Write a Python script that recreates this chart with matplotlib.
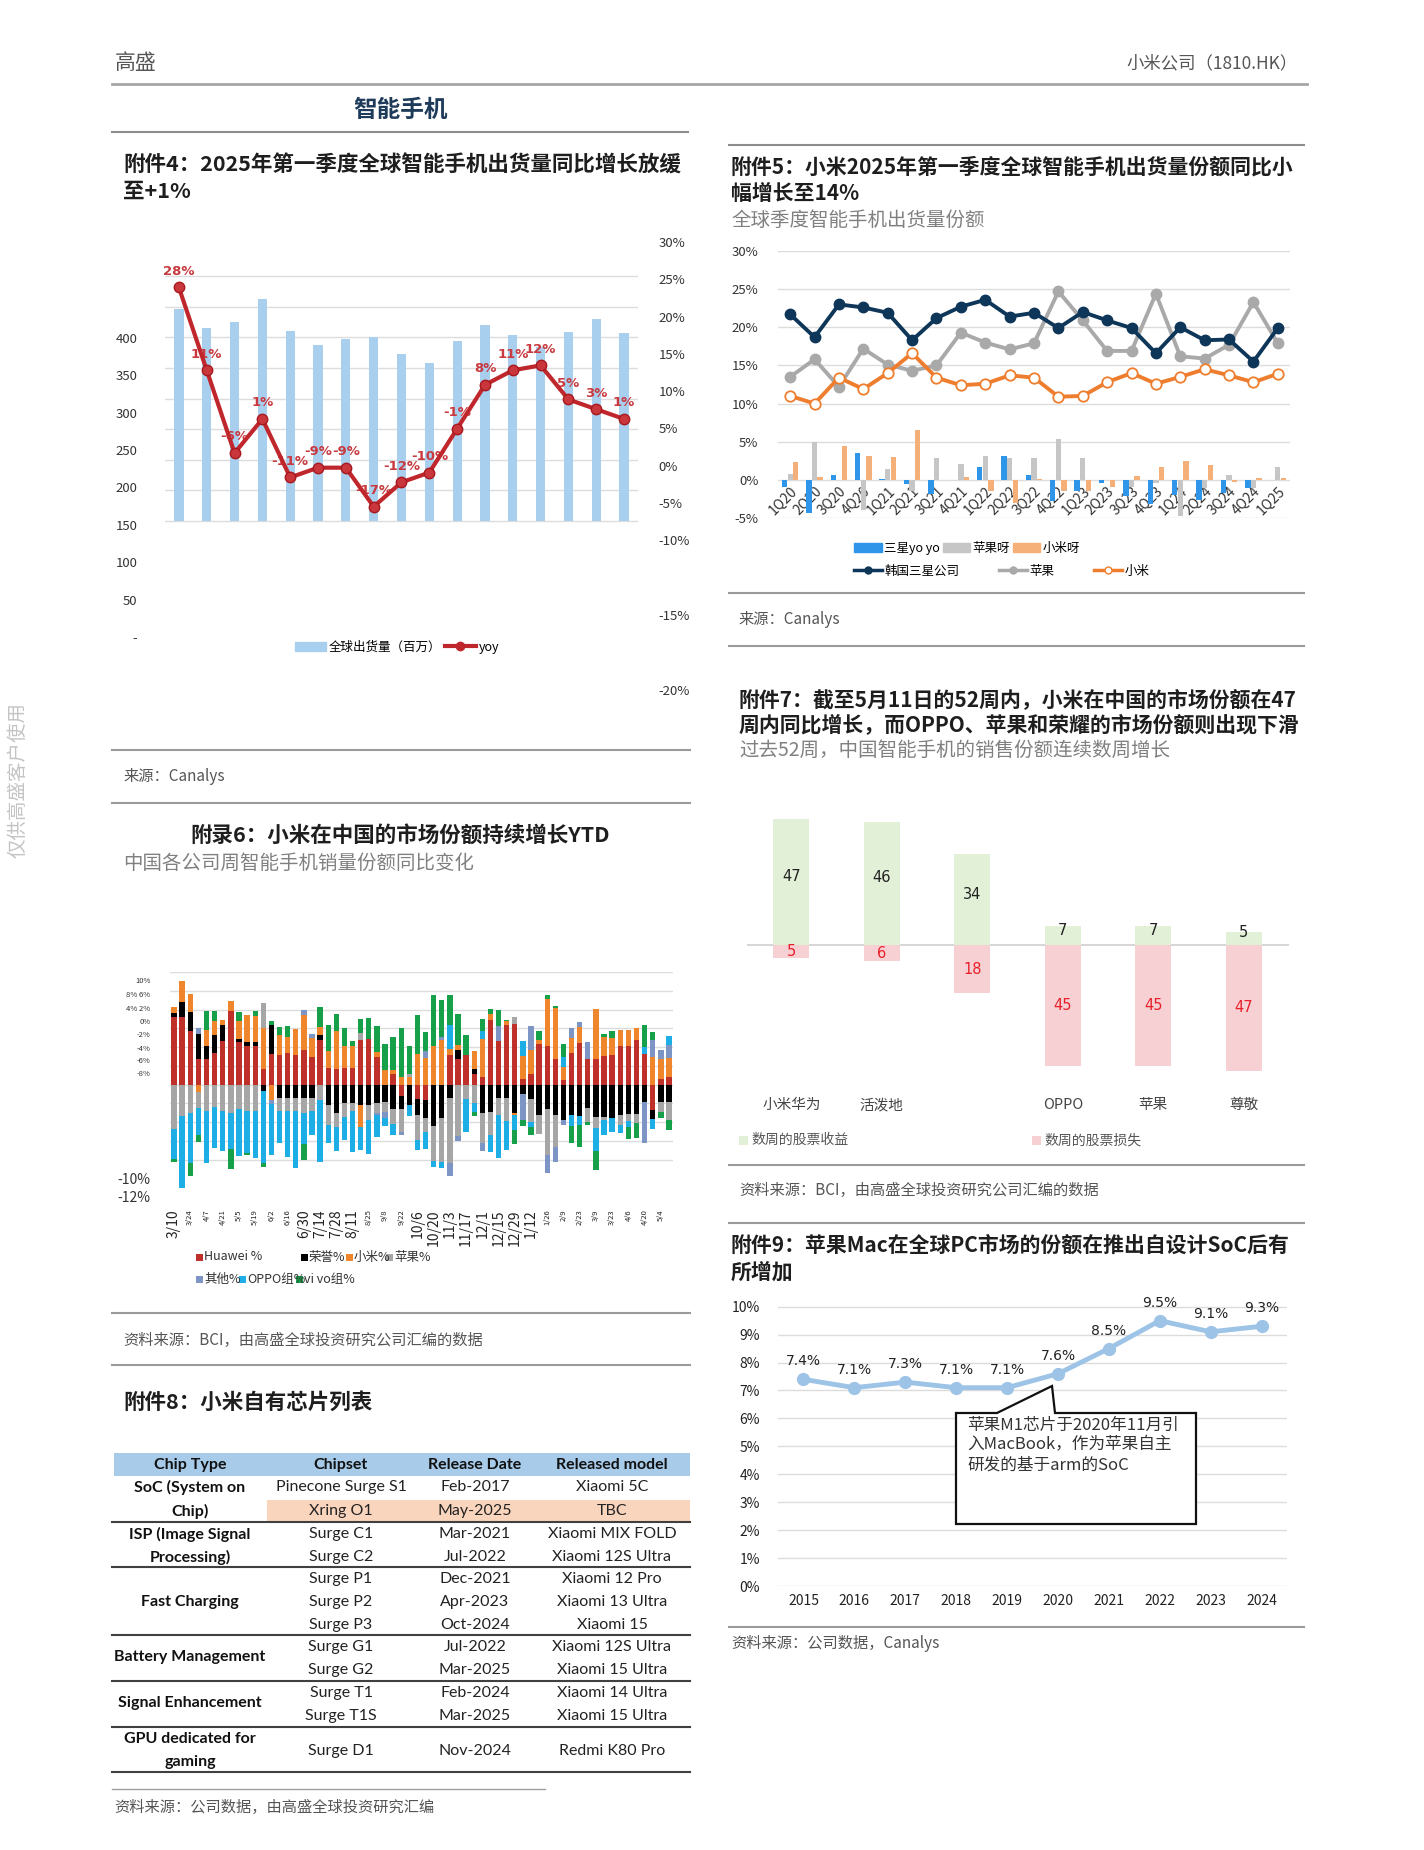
import matplotlib
matplotlib.use('Agg')
import matplotlib.pyplot as plt
import numpy as np
from matplotlib.lines import Line2D
from matplotlib.patches import Rectangle, Polygon, Patch
from matplotlib.ticker import FixedLocator, FixedFormatter

plt.rcParams['font.family'] = ['Noto Sans CJK SC', 'DejaVu Sans']
plt.rcParams['axes.unicode_minus'] = False

# ---------------- data ----------------
# 附件4
quarters4 = ['1Q21', '2Q21', '3Q21', '4Q21', '1Q22', '2Q22', '3Q22', '4Q22', '1Q23',
             '2Q23', '3Q23', '4Q23', '1Q24', '2Q24', '3Q24', '4Q24', '1Q25']
shipments = [346, 315, 325, 363, 310, 288, 297, 301, 273, 258, 294, 320, 304, 285, 309, 330, 307]
yoy = [28, 11, -6, 1, -11, -9, -9, -17, -12, -10, -1, 8, 11, 12, 5, 3, 1]
left_ticks4 = [0, 50, 100, 150, 200, 250, 300, 350, 400]
left_labels4 = ['-', '50', '100', '150', '200', '250', '300', '350', '400']
right_ticks4 = [30, 25, 20, 15, 10, 5, 0, -5, -10, -20, -30]
right_labels4 = ['30%', '25%', '20%', '15%', '10%', '5%', '0%', '-5%', '-10%', '-15%', '-20%']

# 附件5
quarters5 = ['1Q20', '2Q20', '3Q20', '4Q20', '1Q21', '2Q21', '3Q21', '4Q21', '1Q22', '2Q22', '3Q22',
             '4Q22', '1Q23', '2Q23', '3Q23', '4Q23', '1Q24', '2Q24', '3Q24', '4Q24', '1Q25']
samsung_share = [21.7, 18.7, 23.0, 22.6, 21.9, 18.3, 21.2, 22.7, 23.6, 21.4, 21.9,
                 19.9, 22.0, 20.9, 19.9, 16.6, 20.0, 18.3, 18.4, 15.5, 19.9]
apple_share = [13.5, 15.8, 12.2, 17.2, 15.1, 14.3, 15.0, 19.3, 18.0, 17.1, 17.9,
               24.7, 20.9, 16.9, 16.9, 24.4, 16.2, 15.9, 17.7, 23.3, 17.9]
xiaomi_share = [11.0, 10.0, 13.4, 11.9, 14.0, 16.6, 13.4, 12.4, 12.6, 13.7, 13.4,
                10.9, 11.0, 12.8, 14.0, 12.6, 13.5, 14.5, 13.7, 12.8, 13.9]
samsung_yoy = [-0.9, -4.3, 0.7, 3.5, 0.1, -0.5, -1.8, 0.0, 1.7, 3.1, 0.7,
               -2.8, -1.5, -0.4, -2.1, -3.1, -2.0, -2.6, -1.7, -1.1, 0.0]
apple_yoy = [0.8, 5.0, 0.0, -4.0, 1.4, -1.4, 2.8, 2.1, 3.1, 2.8, 2.8,
             5.4, 2.9, 0.0, -0.9, -0.4, -4.8, -1.1, 0.7, -1.1, 1.7]
xiaomi_yoy = [2.3, 0.4, 4.4, 3.1, 3.0, 6.6, 0.0, 0.4, -1.4, -3.0, 0.1,
              -1.5, -1.5, -1.0, 0.5, 1.7, 2.5, 1.9, -0.3, 0.3, 0.3]

# 附录6 (weekly yoy share change, %)
week_labels6 = ['3/10', '3/24', '4/7', '4/21', '5/5', '5/19', '6/2', '6/16', '6/30', '7/14', '7/28',
                '8/11', '8/25', '9/8', '9/22', '10/6', '10/20', '11/3', '11/17', '12/1', '12/15',
                '12/29', '1/12', '1/26', '2/9', '2/23', '3/9', '3/23', '4/6', '4/20', '5/4']
big_labels6 = ['3/10', '6/30', '7/14', '7/28', '8/11', '10/6', '10/20', '11/3', '11/17',
               '12/1', '12/15', '12/29', '1/12']
series6 = ['Huawei %', '荣誉%', '小米%', '苹果%', '其他%', 'OPPO组%', 'vi vo组%']
huawei6 = [7.2, 7.2, 5.7, 2.7, 2.7, 3.4, 4.6, 7.8, 4.5, 4.1, 4.1, 1.7, 3.3, 3.2, 3.4, 3.1, 3.7, 2.9,
           4.7, 1.8, 1.7, 1.8, 1.8, 4.7, 4.9, 2.9, 0.0, 1.1, -1.2, 0.0, -1.5, -1.7, 0.0, 0.0, 3.2,
           2.7, 3.1, 1.1, 0.8, 6.9, 4.6, 6.3, 6.5, 0.6, 1.1, 4.3, 4.1, 2.7, 0.5, 3.4, 4.4, 2.7,
           2.7, 3.0, 3.2, 4.1, 4.1, 4.7, 3.3, -2.7, 0.6, 0.8]
honor6 = [0.4, 1.6, 2.0, 2.7, 1.4, 1.9, 1.7, 0.0, 0.4, 0.4, 0.4, -0.7, 3.1, -1.4, -1.4, -1.4, -1.4,
          -1.4, 0.6, -2.2, -3.0, -2.0, -2.0, -2.2, -2.2, -2.0, -1.9, -2.6, -1.4, -2.2, -1.8, -1.9,
          -4.4, -3.6, -1.4, 1.0, 0.0, 0.6, -3.0, -2.9, -1.4, -1.4, -3.0, -1.0, -1.5, -3.3, -2.6,
          -3.2, -3.8, -3.3, -3.4, -2.5, -3.5, -3.5, -3.6, -3.3, -3.1, -3.1, -1.9, -1.0, -1.9, -1.9]
xiaomi6 = [0.7, 2.2, 2.0, -0.8, 1.7, 1.5, 0.6, 1.1, 1.9, 2.9, 2.8, 4.3, -1.6, 2.1, 1.7, 2.8, 3.7,
           2.1, 0.8, 1.8, 4.0, 2.3, 2.3, -2.3, 0.0, 0.6, 1.5, 0.4, 0.8, 0.8, 3.3, 2.8, 4.1, 4.7,
           0.6, 0.5, 0.0, 1.9, 4.1, 0.6, 0.0, 0.5, -0.3, 2.4, 2.6, 0.4, 5.0, 5.5, 1.4, 1.6, 1.7,
           0.0, 5.4, 2.1, 1.8, 1.7, 1.7, 1.3, 0.0, 2.9, 2.1, 2.0]
apple6 = [-4.7, -3.4, -3.0, -1.7, -2.8, -2.4, -2.8, -3.0, -2.6, -2.8, -2.8, 2.7, 0.0, -1.4, -1.4,
          -1.4, -1.6, -1.4, -1.7, -2.1, -1.5, -1.5, -0.8, 0.8, -1.6, -1.0, -1.0, -1.6, -2.5, 0.3,
          -2.6, -1.5, -3.8, -4.7, -7.0, -5.5, -1.5, -2.0, -3.2, -2.5, -1.8, -2.5, 0.7, 0.0, -2.5,
          -2.0, -4.9, -3.5, 0.0, 0.0, 0.0, -1.5, -1.1, -0.3, 0.0, -1.0, -0.8, -1.0, 0.0, 0.0,
          -1.0, -1.9]
other6 = [0.0, 0.0, 0.0, 0.6, 0.0, 0.0, 0.0, 0.0, 0.0, 0.0, 0.0, 0.0, -0.5, 0.0, 0.0, 0.0, 0.6,
          0.4, 0.0, 0.0, 0.0, 0.0, 0.0, 0.0, 0.0, -0.3, -0.7, 0.0, -0.3, 0.0, 0.0, 0.8, 0.0, 0.4,
          -1.4, -0.5, 0.0, 0.0, -0.9, 0.0, 1.6, 0.0, 0.0, -2.8, 2.5, 0.0, -1.9, -1.6, -0.5, 1.0,
          0.6, 1.8, 0.0, 0.0, 0.0, 0.0, 0.0, 0.0, -4.3, 1.8, 1.0, 1.4]
oppo6 = [-3.2, -7.6, -5.4, -2.9, -5.6, -4.4, -4.3, -3.9, -5.0, -4.5, -5.0, -7.7, -5.4, -3.4, -4.9,
         -6.1, -3.3, -2.6, -6.6, -1.9, -2.6, -2.4, -4.4, -2.5, -3.6, -2.3, -0.8, -1.2, 0.0, -1.2,
         -1.1, -1.8, -0.6, -0.6, 2.5, 0.0, -3.6, -0.9, 0.8, -1.8, -4.6, -3.1, -1.5, 1.6, -0.5,
         0.0, 0.0, 0.0, 1.0, -1.1, -0.9, 0.0, -2.5, -1.6, -1.5, -0.9, -0.6, 0.0, 0.7, -1.0, 0.0,
         1.0]
vivo6 = [-0.4, 0.0, -1.4, -0.7, 2.0, 1.0, 0.0, -2.1, 0.9, -0.2, 0.5, -0.4, 0.4, 0.8, 1.1, 0.0,
         -1.8, 0.0, 2.2, 2.7, 1.8, 1.9, 0.5, 1.5, 2.2, 2.7, 2.8, 3.6, 5.2, 3.0, 4.1, 2.0, 5.4, 3.9,
         3.3, 3.3, 2.2, -0.5, 1.3, 0.6, 1.8, 0.1, -1.5, -0.6, -0.9, 1.0, 0.4, 0.2, 1.4, -1.8,
         -2.4, -0.3, -2.0, 0.3, 0.7, 0.0, -1.3, -1.6, 2.3, 0.9, -0.7, -1.0]
y_tick_vals6 = [12.4, 11.1, 9.7, 8.2, 6.8, 5.4, 3.9, 2.6, 1.2, -10, -12]
y_tick_labels6 = ['12%', '10%', '8% 6%', '4% 2%', '0%', '-2%', '-4%', '-6%', '-8%', '-10%', '-12%']

# 附件7
brands7 = ['小米华为', '活泼地', '', 'OPPO', '苹果', '尊敬']
weeks_gain = [47, 46, 34, 7, 7, 5]
weeks_loss = [5, 6, 18, 45, 45, 47]

# 附件9
years9 = ['2015', '2016', '2017', '2018', '2019', '2020', '2021', '2022', '2023', '2024']
mac_share = [7.4, 7.1, 7.3, 7.1, 7.1, 7.6, 8.5, 9.5, 9.1, 9.3]

# 附件8 table
table_header = ['Chip Type', 'Chipset', 'Release Date', 'Released model']
chipsets = ['Pinecone Surge S1', 'Xring O1', 'Surge C1', 'Surge C2', 'Surge P1', 'Surge P2',
            'Surge P3', 'Surge G1', 'Surge G2', 'Surge T1', 'Surge T1S', 'Surge D1']
release_dates = ['Feb-2017', 'May-2025', 'Mar-2021', 'Jul-2022', 'Dec-2021', 'Apr-2023',
                 'Oct-2024', 'Jul-2022', 'Mar-2025', 'Feb-2024', 'Mar-2025', 'Nov-2024']
models = ['Xiaomi 5C', 'TBC', 'Xiaomi MIX FOLD', 'Xiaomi 12S Ultra', 'Xiaomi 12 Pro',
          'Xiaomi 13 Ultra', 'Xiaomi 15', 'Xiaomi 12S Ultra', 'Xiaomi 15 Ultra',
          'Xiaomi 14 Ultra', 'Xiaomi 15 Ultra', 'Redmi K80 Pro']

# ---------------- figure helpers ----------------
W, H = 1424, 1850
fig = plt.figure(figsize=(W / 100, H / 100), dpi=100)
fig.patch.set_facecolor('white')


def box(x0, y0, x1, y1):
    return fig.add_axes([x0 / W, 1 - y1 / H, (x1 - x0) / W, (y1 - y0) / H])


def T(x, y, s, size=11, color='#222222', ha='left', va='center', **kw):
    return fig.text(x / W, 1 - y / H, s, fontsize=size, color=color, ha=ha, va=va, **kw)


def L(x0, x1, y, color='#9a9a9a', lw=1.5):
    fig.add_artist(Line2D([x0 / W, x1 / W], [1 - y / H, 1 - y / H], color=color, lw=lw))


def R(x0, y0, x1, y1, color):
    fig.add_artist(Rectangle((x0 / W, 1 - y1 / H), (x1 - x0) / W, (y1 - y0) / H,
                             facecolor=color, edgecolor='none', transform=fig.transFigure))


TITLE = dict(size=15.5, color='#1e1e1e', fontweight='bold')
TITLE_R = dict(size=15, color='#1e1e1e', fontweight='bold')
SUB = dict(size=14, color='#808080')
SRC = dict(size=11, color='#555555')

# ---------------- page header ----------------
T(115, 63, '高盛', size=15, color='#555555')
T(1298, 63, '小米公司（1810.HK）', size=12.5, color='#555555', ha='right')
L(112, 1307, 84, color='#a6a6a6', lw=2)
T(401, 110, '智能手机', size=17, color='#1f3b5a', ha='center', fontweight='bold')
L(112, 688, 132, color='#8c8c8c', lw=1.5)
L(729, 1304, 145, color='#8c8c8c', lw=1.5)
T(18, 780, '仅供高盛客户使用', size=14, color='#c4c4c4', ha='center', rotation=90)

# ---------------- 附件4 ----------------
T(123, 165, '附件4：2025年第一季度全球智能手机出货量同比增长放缓', **TITLE)
T(123, 191, '至+1%', **TITLE)
ax4 = box(165, 230, 638, 700)
x4 = np.arange(len(quarters4))
ax4.bar(x4, shipments, width=0.33, color='#a9cfee', zorder=2)
ax4.set_xlim(-0.5, len(quarters4) - 0.5)
ax4.set_ylim(-292.5, 475.5)
ax4.set_yticks(np.arange(0, 401, 50))
ax4.yaxis.grid(True, color='#dcdcdc', lw=1)
ax4.set_axisbelow(True)
ax4.tick_params(axis='y', length=0, labelleft=False)
for s in ax4.spines.values():
    s.set_visible(False)
ax4.spines['bottom'].set_position(('data', 0))
ax4.set_xticks(x4)
ax4.set_xticklabels(quarters4, rotation=45, ha='right', va='top', rotation_mode='anchor',
                    fontsize=9.5, color='#333333')
ax4.tick_params(axis='x', length=0, pad=3)
ax4.patch.set_alpha(0)

ax4y = ax4.twinx()
ax4y.set_ylim(-56.7, 39.8)
ax4y.plot(x4, yoy, color='#c0272d', lw=3, marker='o', ms=7.5, mfc='#c9363c', mec='#a8191f',
          zorder=4)
for xi, v in zip(x4, yoy):
    ax4y.annotate(f'{v}%', (xi, v), xytext=(0, 7), textcoords='offset points', ha='center',
                  va='bottom', fontsize=9.5, fontweight='bold', color='#c83a3f',
                  family=['DejaVu Sans'])
ax4y.axis('off')

axL4 = ax4.twinx()
axL4.set_ylim(-84.3, 544.5)
axL4.yaxis.set_ticks_position('left')
axL4.yaxis.set_major_locator(FixedLocator(left_ticks4))
axL4.yaxis.set_major_formatter(FixedFormatter(left_labels4))
axL4.tick_params(axis='y', length=0, pad=20, labelsize=9.5, labelcolor='#333333')
for s in axL4.spines.values():
    s.set_visible(False)
axL4.set_xticks([])

axR4 = ax4.twinx()
axR4.set_ylim(-31.4, 31.6)
axR4.yaxis.set_major_locator(FixedLocator(right_ticks4))
axR4.yaxis.set_major_formatter(FixedFormatter(right_labels4))
axR4.tick_params(axis='y', length=0, pad=15, labelsize=9.5, labelcolor='#333333')
for s in axR4.spines.values():
    s.set_visible(False)
axR4.set_xticks([])

fig.legend([Patch(color='#a9cfee'), Line2D([], [], color='#c0272d', lw=3, marker='o', ms=6)],
           ['全球出货量（百万）', 'yoy'], loc='center', bbox_to_anchor=(397 / W, 1 - 647 / H),
           ncol=2, frameon=False, fontsize=9, handlelength=2.5, handletextpad=0.2,
           columnspacing=0.3)
L(112, 690, 750)
T(123, 777, '来源：Canalys', **SRC)
L(112, 690, 803)

# ---------------- 附件5 ----------------
T(731, 167, '附件5：小米2025年第一季度全球智能手机出货量份额同比小', **TITLE_R)
T(731, 193, '幅增长至14%', **TITLE_R)
T(731, 220, '全球季度智能手机出货量份额', **SUB)
ax5 = box(778, 251, 1290, 518)
x5 = np.arange(len(quarters5))
ax5.bar(x5 - 0.23, samsung_yoy, width=0.22, color='#2e95e8', zorder=2)
ax5.bar(x5, apple_yoy, width=0.22, color='#c6c6c6', zorder=2)
ax5.bar(x5 + 0.23, xiaomi_yoy, width=0.22, color='#f5b07a', zorder=2)
ax5.plot(x5, samsung_share, color='#0e3658', lw=2.8, marker='o', ms=7.5, zorder=4)
ax5.plot(x5, apple_share, color='#a9a9a9', lw=2.8, marker='o', ms=7.5, zorder=3)
ax5.plot(x5, xiaomi_share, color='#ee7d2e', lw=2.8, marker='o', ms=7.5, mfc='white',
         mec='#ee7d2e', mew=1.3, zorder=4)
ax5.set_xlim(-0.5, len(quarters5) - 0.5)
ax5.set_ylim(-5, 30)
ax5.set_yticks(np.arange(-5, 31, 5))
ax5.set_yticklabels([f'{v}%' for v in range(-5, 31, 5)], fontsize=9.5, color='#333333')
ax5.yaxis.grid(True, color='#dcdcdc', lw=1)
ax5.set_axisbelow(True)
for s in ax5.spines.values():
    s.set_visible(False)
ax5.spines['bottom'].set_position(('data', 0))
ax5.set_xticks(x5)
ax5.set_xticklabels(quarters5, rotation=45, ha='right', va='top', rotation_mode='anchor',
                    fontsize=10, color='#333333')
ax5.tick_params(axis='both', length=0)
ax5.tick_params(axis='y', pad=14)
ax5.tick_params(axis='x', pad=3)
fig.legend([Patch(color='#2e95e8'), Patch(color='#c6c6c6'), Patch(color='#f5b07a')],
           ['三星yo yo', '苹果呀', '小米呀'], loc='center left',
           bbox_to_anchor=(843 / W, 1 - 548 / H), ncol=3, frameon=False, fontsize=9,
           handlelength=2.2, handletextpad=0.2, columnspacing=0.2)
fig.legend([Line2D([], [], color='#0e3658', lw=2.5, marker='o', ms=5),
            Line2D([], [], color='#a9a9a9', lw=2.5, marker='o', ms=5),
            Line2D([], [], color='#ee7d2e', lw=2.5, marker='o', ms=5, mfc='white')],
           ['韩国三星公司', '苹果', '小米'], loc='center left',
           bbox_to_anchor=(843 / W, 1 - 571 / H), ncol=3, frameon=False, fontsize=9,
           handlelength=2.2, handletextpad=0.2, columnspacing=3.2)
L(729, 1304, 593)
T(738, 620, '来源：Canalys', **SRC)
L(729, 1304, 646)

# ---------------- 附录6 ----------------
T(400, 836, '附录6：小米在中国的市场份额持续增长YTD', ha='center', **TITLE)
T(123, 863, '中国各公司周智能手机销量份额同比变化', **SUB)
ax6 = box(170, 972, 673, 1197)
colors6 = ['#c0302b', '#000000', '#f0862c', '#a6a6a6', '#7d95c4', '#1eaee6', '#17a04a']
data6 = [huawei6, honor6, xiaomi6, apple6, other6, oppo6, vivo6]
x6 = np.arange(len(huawei6))
pos_base = np.zeros(len(x6))
neg_base = np.zeros(len(x6))
for vals, c in zip(data6, colors6):
    v = np.array(vals)
    p = np.where(v > 0, v, 0)
    n = np.where(v < 0, v, 0)
    ax6.bar(x6, p, bottom=pos_base, width=0.66, color=c, zorder=2)
    ax6.bar(x6, n, bottom=neg_base, width=0.66, color=c, zorder=2)
    pos_base += p
    neg_base += n
ax6.set_xlim(-0.5, len(x6) - 0.5)
ax6.set_ylim(-12, 12)
ax6.set_yticks(np.arange(-12, 13, 2), minor=True)
ax6.yaxis.grid(True, which='minor', color='#dcdcdc', lw=1)
ax6.set_axisbelow(True)
ax6.yaxis.set_major_locator(FixedLocator(y_tick_vals6))
ax6.yaxis.set_major_formatter(FixedFormatter(y_tick_labels6))
ax6.tick_params(axis='y', which='both', length=0, pad=14, labelcolor='#333333')
for lab, txt in zip(ax6.get_yticklabels(), y_tick_labels6):
    lab.set_fontsize(10 if txt in ('-10%', '-12%') else 5.5)
ax6.set_xticks(np.arange(0, len(x6), 2))
ax6.set_xticklabels(week_labels6, rotation=90, va='top', ha='center', color='#222222')
for lab, txt in zip(ax6.get_xticklabels(), week_labels6):
    lab.set_fontsize(10 if txt in big_labels6 else 5.5)
ax6.tick_params(axis='x', length=0, pad=9)
for s in ax6.spines.values():
    s.set_visible(False)
leg6 = [(199, 1257, 0), (304, 1257, 1), (349, 1257, 2), (389, 1257, 3),
        (199, 1279, 4), (242, 1279, 5), (299, 1279, 6)]
for lx, ly, ci in leg6:
    R(lx - 3.5, ly - 3.5, lx + 3.5, ly + 3.5, colors6[ci])
    T(lx + 5, ly, series6[ci], size=9, color='#333333')
L(112, 690, 1313)
T(123, 1340, '资料来源：BCI，由高盛全球投资研究公司汇编的数据', **SRC)
L(112, 690, 1365)

# ---------------- 附件8 table ----------------
T(123, 1402, '附件8：小米自有芯片列表', **TITLE)
R(114, 1453, 690, 1476, '#a7cbe9')
R(267, 1500, 690, 1522, '#fad5bd')
col_x = [190, 341, 475, 612]
for cx, h in zip(col_x, table_header):
    T(cx, 1465, h, size=11.5, color='#111111', ha='center', family=['Lato'], fontweight='bold')
row_y = [1487, 1511, 1534, 1557, 1579, 1602, 1625, 1647, 1670, 1693, 1716, 1751]
for ry, c1, c2, c3 in zip(row_y, chipsets, release_dates, models):
    T(col_x[1], ry, c1, size=11.5, color='#222222', ha='center', family=['Lato'])
    T(col_x[2], ry, c2, size=11.5, color='#222222', ha='center', family=['Lato'])
    T(col_x[3], ry, c3, size=11.5, color='#222222', ha='center', family=['Lato'])
chip_types = [(1487, 'SoC (System on'), (1511, 'Chip)'), (1534, 'ISP (Image Signal'),
              (1557, 'Processing)'), (1602, 'Fast Charging'), (1657, 'Battery Management'),
              (1703, 'Signal Enhancement'), (1739, 'GPU dedicated for'), (1762, 'gaming')]
for ry, t in chip_types:
    T(col_x[0], ry, t, size=11.5, color='#111111', ha='center', family=['Lato'],
      fontweight='bold')
for ly in [1522, 1567, 1635, 1681, 1727, 1772]:
    L(112, 690, ly, color='#404040', lw=1.5)
L(112, 545, 1789, color='#a0a0a0', lw=1)
T(114, 1807, '资料来源：公司数据，由高盛全球投资研究汇编', **SRC)

# ---------------- 附件7 ----------------
T(739, 700, '附件7：截至5月11日的52周内，小米在中国的市场份额在47', **TITLE_R)
T(739, 725, '周内同比增长，而OPPO、苹果和荣耀的市场份额则出现下滑', **TITLE_R)
T(739, 750, '过去52周，中国智能手机的销售份额连续数周增长', **SUB)
ax7 = box(747, 800, 1289, 1090)
x7 = np.arange(len(brands7))
gains = np.array(weeks_gain)
losses = -np.array(weeks_loss)
ax7.bar(x7, gains, width=0.4, color='#e3f0d8', zorder=2)
ax7.bar(x7, losses, width=0.4, color='#f6d0d3', zorder=2)
ax7.axhline(0, color='#d0d0d0', lw=1.2, zorder=1)
for xi, g, l in zip(x7, gains, losses):
    ax7.text(xi, g / 2 + 2, f'{g}', ha='center', va='center', fontsize=10.5, color='#222222',
             family=['DejaVu Sans'])
    ax7.text(xi, l / 2, f'{-l}', ha='center', va='center', fontsize=10.5, color='#e8202a',
             family=['DejaVu Sans'])
ax7.set_xlim(-0.49, len(brands7) - 0.5)
ax7.set_ylim(-54.1, 54.1)
ax7.set_yticks([])
ax7.set_xticks(x7)
ax7.set_xticklabels(brands7, fontsize=10.5, color='#444444')
ax7.tick_params(axis='x', length=0, pad=6)
for s in ax7.spines.values():
    s.set_visible(False)
R(739, 1136, 748, 1145, '#e3f0d8')
T(751, 1140, '数周的股票收益', size=10, color='#555555')
R(1032, 1136, 1041, 1145, '#f6d0d3')
T(1044, 1140, '数周的股票损失', size=10, color='#555555')
L(729, 1304, 1165)
T(739, 1190, '资料来源：BCI，由高盛全球投资研究公司汇编的数据', **SRC)

# ---------------- 附件9 ----------------
L(729, 1304, 1223)
T(731, 1245, '附件9：苹果Mac在全球PC市场的份额在推出自设计SoC后有', **TITLE_R)
T(731, 1272, '所增加', **TITLE_R)
ax9 = box(778, 1300, 1287, 1586)
x9 = np.arange(len(years9))
ax9.plot(x9, mac_share, color='#9dc3e6', lw=3.5, marker='o', ms=8.5, zorder=3)
for xi, v in zip(x9, mac_share):
    ax9.annotate(f'{v}%', (xi, v), xytext=(0, 13), textcoords='offset points', ha='center',
                 va='center', fontsize=10, color='#222222', family=['DejaVu Sans'])
ax9.set_xlim(-0.5, len(years9) - 0.5)
ax9.set_ylim(0, 10.24)
ax9.set_yticks(np.arange(0, 11, 1))
ax9.set_yticklabels([f'{v}%' for v in range(0, 11)], fontsize=10, color='#222222')
ax9.yaxis.grid(True, color='#dcdcdc', lw=1)
ax9.set_axisbelow(True)
ax9.set_xticks(x9)
ax9.set_xticklabels(years9, fontsize=10, color='#222222')
ax9.tick_params(axis='both', length=0)
ax9.tick_params(axis='y', pad=13)
ax9.tick_params(axis='x', pad=6)
for s in ax9.spines.values():
    s.set_visible(False)
callout = [(956, 1413), (997, 1413), (1052, 1386), (1055, 1413), (1196, 1413), (1196, 1524),
           (956, 1524)]
fig.add_artist(Polygon([(px / W, 1 - py / H) for px, py in callout], closed=True,
                       facecolor='white', edgecolor='#111111', lw=1.6,
                       transform=fig.transFigure, zorder=5))
for i, line in enumerate(['苹果M1芯片于2020年11月引', '入MacBook，作为苹果自主',
                          '研发的基于arm的SoC']):
    t = T(967, 1425 + i * 20, line, size=12, color='#333333')
    t.set_zorder(6)
L(729, 1304, 1627)
T(731, 1643, '资料来源：公司数据，Canalys', **SRC)

fig.savefig('out.png', dpi=100, facecolor='white')
